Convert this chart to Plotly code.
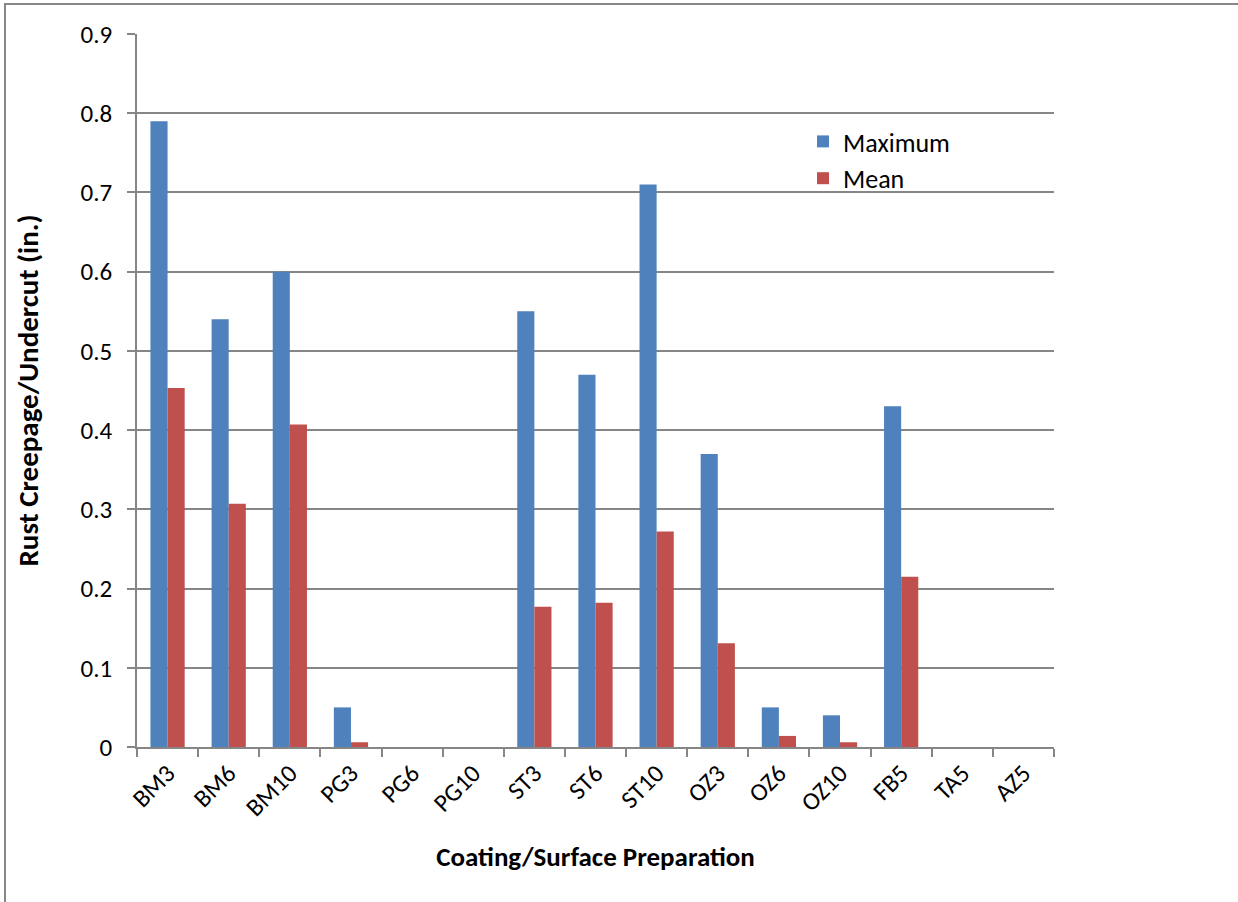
import plotly.graph_objects as go

categories = ["BM3", "BM6", "BM10", "PG3", "PG6", "PG10", "ST3", "ST6", "ST10",
              "OZ3", "OZ6", "OZ10", "FB5", "TA5", "AZ5"]
maximum = [0.79, 0.54, 0.60, 0.05, 0, 0, 0.55, 0.47, 0.71, 0.37, 0.05, 0.04, 0.43, 0, 0]
mean = [0.453, 0.307, 0.407, 0.006, 0, 0, 0.177, 0.182, 0.272, 0.131, 0.014, 0.006, 0.215, 0, 0]
y_ticks = [0, 0.1, 0.2, 0.3, 0.4, 0.5, 0.6, 0.7, 0.8, 0.9]

FONT = "Carlito, Lato, 'Open Sans', sans-serif"

fig = go.Figure()
fig.add_trace(go.Bar(x=categories, y=maximum, name="Maximum",
                     marker=dict(color="#4F81BD", line=dict(width=0))))
fig.add_trace(go.Bar(x=categories, y=mean, name="Mean",
                     marker=dict(color="#C0504D", line=dict(width=0))))

L, R, T, B = 137, 1054, 34, 747
W, H = 1238, 902
pw, ph = R - L, B - T

fig.update_layout(
    width=W, height=H,
    margin=dict(l=L, r=W - R, t=T, b=H - B, autoexpand=False),
    paper_bgcolor="white", plot_bgcolor="white",
    barmode="group", bargap=0.44, bargroupgap=0,
    font=dict(family=FONT, size=25, color="black"),
    showlegend=True,
    legend=dict(x=(803 - L) / pw, y=(B - 118) / ph, xanchor="left", yanchor="top",
                font=dict(size=26), bgcolor="rgba(0,0,0,0)", itemwidth=30,
                tracegroupgap=0),
    xaxis=dict(type="category", showgrid=False, showline=True, linecolor="#868686",
               linewidth=1.5, ticks="outside", tickson="boundaries", ticklen=8,
               tickcolor="#868686", tickwidth=1.5, tickangle=-45,
               tickfont=dict(size=25), range=[-0.5, 14.5],
               title=dict(text="<b>Coating/Surface Preparation</b>",
                          font=dict(size=27), standoff=25)),
    yaxis=dict(range=[0, 0.9], tickvals=y_ticks, ticktext=[f"{v:g}" for v in y_ticks],
               showgrid=True, gridcolor="#868686", gridwidth=1.5,
               showline=True, linecolor="#868686", linewidth=1.5,
               ticks="outside", ticklen=8, tickcolor="#868686", tickwidth=1.5,
               tickfont=dict(size=25), ticklabelstandoff=10, zeroline=False,
               title=dict(text="<b>Rust Creepage/Undercut (in.)</b>",
                          font=dict(size=29), standoff=33)),
)

# outer chart border
fig.add_shape(type="rect", xref="paper", yref="paper",
              x0=(5 - L) / pw, x1=(W + 10 - L) / pw,
              y0=(B - (H + 10)) / ph, y1=(B - 4) / ph,
              line=dict(color="#888888", width=2), fillcolor="rgba(0,0,0,0)", layer="below")

fig.write_html("out.html", config={"displayModeBar": False},
               post_script="document.body.style.margin='0';document.body.style.overflow='hidden';")
